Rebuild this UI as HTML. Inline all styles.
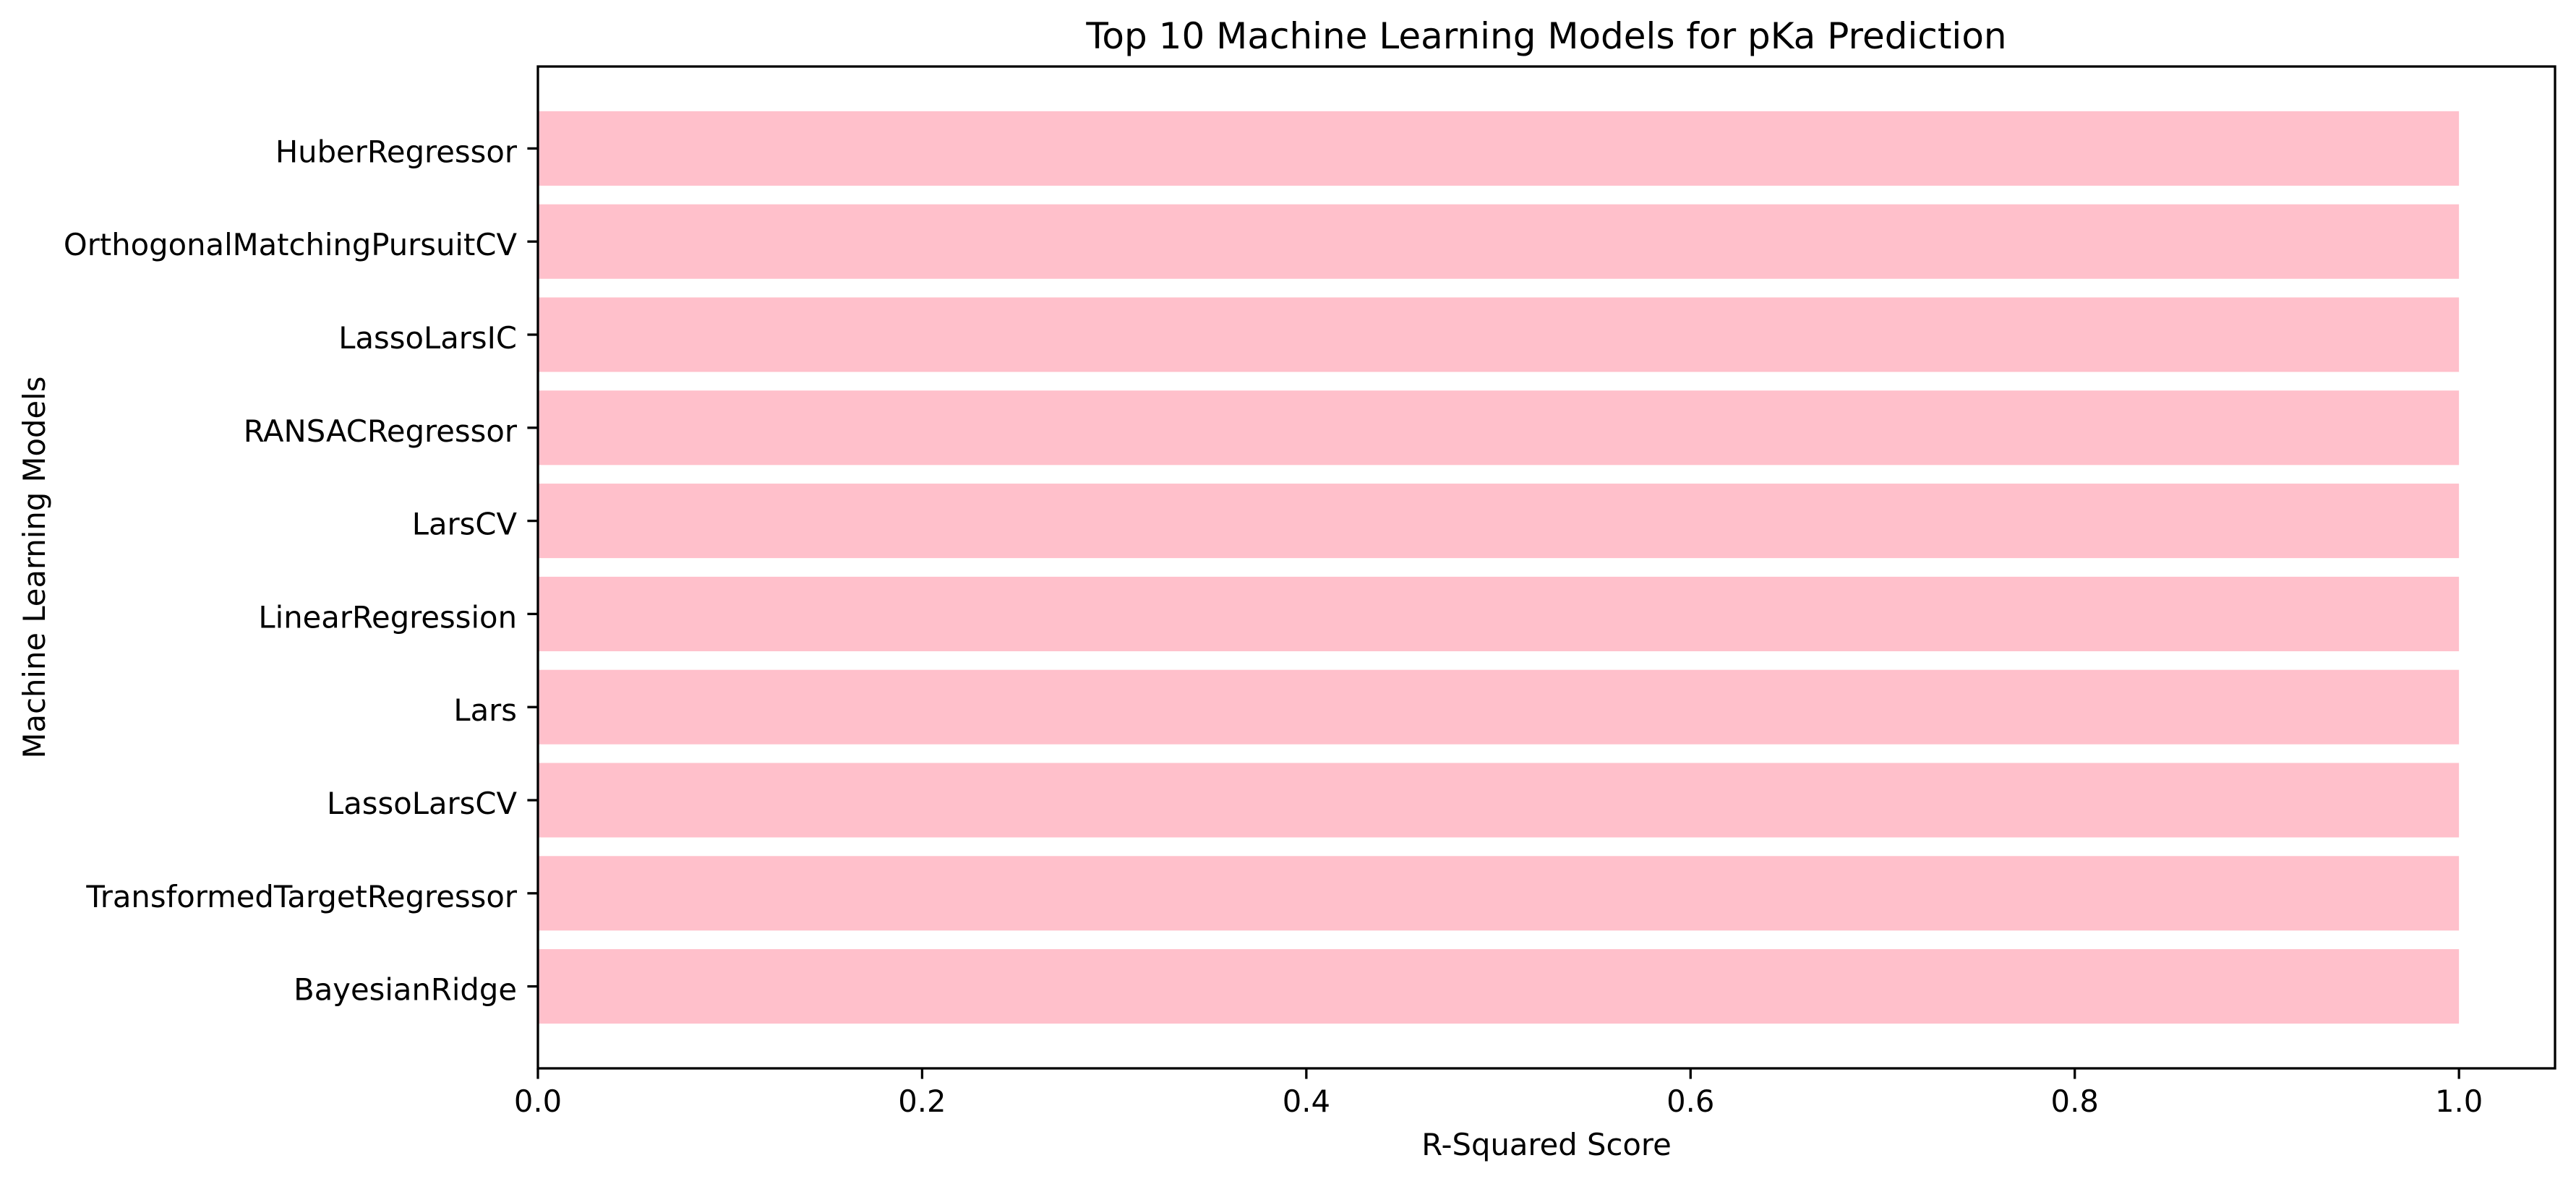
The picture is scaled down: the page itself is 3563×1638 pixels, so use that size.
<!DOCTYPE html>
<html><head><meta charset="utf-8"><style>
html,body{margin:0;padding:0;background:#fff;}
svg{display:block;}
text{font-family:"DejaVu Sans","Liberation Sans",sans-serif;fill:#000;}
</style></head><body>
<svg id="chart" width="3563" height="1638" viewBox="0 0 3563 1638" xmlns="http://www.w3.org/2000/svg">
<text x="2139" y="67" font-size="50" text-anchor="middle">Top 10 Machine Learning Models for pKa Prediction</text>
<g id="bars"></g>
<g id="axes"></g>
<text x="2139" y="1598" font-size="41.7" text-anchor="middle">R-Squared Score</text>
<text transform="translate(62,785) rotate(-90)" font-size="41.7" text-anchor="middle">Machine Learning Models</text>
</svg>
<script>
const categories = ["BayesianRidge","TransformedTargetRegressor","LassoLarsCV","Lars","LinearRegression","LarsCV","RANSACRegressor","LassoLarsIC","OrthogonalMatchingPursuitCV","HuberRegressor"];
const scores = [1.0,1.0,1.0,1.0,1.0,1.0,1.0,1.0,1.0,1.0];
const xTicks = [0,0.2,0.4,0.6,0.8,1.0];
const xTickLabels = ["0.0","0.2","0.4","0.6","0.8","1.0"];

const L=744,R=3534,T=92,B=1478;
const xMin=0,xMax=1.05;
const n=categories.length;
const yMin=-0.4-0.049*(n-0.2)/0.98*0.98, yMax=(n-1)+0.4+0.049*(n-0.2)/0.98*0.98;
const xs=v=>L+(v-xMin)/(xMax-xMin)*(R-L);
const ys=v=>B-(v-yMin)/(yMax-yMin)*(B-T);
const NS="http://www.w3.org/2000/svg";
const bars=document.getElementById('bars'), axes=document.getElementById('axes');
function mk(tag,attrs,parent){const e=document.createElementNS(NS,tag);for(const k in attrs)e.setAttribute(k,attrs[k]);parent.appendChild(e);return e;}

categories.forEach((c,i)=>{
  const y0=ys(i+0.4), y1=ys(i-0.4);
  const r=mk('rect',{x:xs(0),y:y0,width:xs(scores[i])-xs(0),height:y1-y0,fill:'#ffc0cb'},bars);
  
  
  const t=mk('line',{x1:L-14.6,x2:L,y1:ys(i),y2:ys(i),stroke:'#000','stroke-width':3.3},axes);
  
  
  const lb=mk('text',{x:L-29,y:ys(i)+19,'font-size':41.7,'text-anchor':'end'},axes);
  lb.textContent=c;
  
  
});
xTicks.forEach((v,i)=>{
  const t=mk('line',{x1:xs(v),x2:xs(v),y1:B,y2:B+14.6,stroke:'#000','stroke-width':3.3},axes);
  
  
  const lb=mk('text',{x:xs(v),y:B+60,'font-size':41.7,'text-anchor':'middle'},axes);
  lb.textContent=xTickLabels[i];
  
  
});
const frame=mk('rect',{x:L,y:T,width:R-L,height:B-T,fill:'none',stroke:'#000','stroke-width':3.3},axes);


</script>
</body></html>
